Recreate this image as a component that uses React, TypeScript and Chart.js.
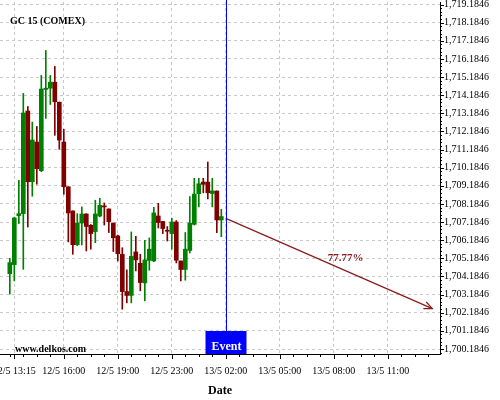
import React, { useEffect, useRef } from "react";
import { Chart, registerables } from "chart.js";

Chart.register(...registerables);

const FONT = "'Liberation Serif', 'Times New Roman', serif";

// candle index (15-minute bars, trading gaps removed)
const candleIndex = [
  0, 1, 2, 3, 4, 5, 6, 7, 8, 9, 10, 11, 12, 13, 14, 15, 16, 17, 18, 19, 20, 21, 22, 23,
  24, 25, 26, 27, 28, 29, 30, 31, 32, 33, 34, 35, 36, 37, 38, 39, 40, 41, 42, 43, 44, 45, 46, 47,
];
const opens = [
  1704.34, 1704.84, 1707.54, 1707.65, 1713.31, 1709.41, 1711.6, 1710.02, 1714.5, 1714.57, 1714.9, 1713.8,
  1711.6, 1709.13, 1707.8, 1705.94, 1707.13, 1707.63, 1707.01, 1706.66, 1707.52, 1708.07, 1707.91, 1707.13,
  1706.42, 1705.41, 1703.35, 1703.14, 1705.54, 1704.91, 1703.83, 1705.07, 1705.04, 1707.52, 1707.22, 1706.71,
  1706.55, 1707.19, 1705.04, 1704.57, 1705.62, 1707.06, 1708.75, 1709.39, 1709.39, 1708.76, 1708.9, 1707.3,
];
const highs = [
  1705.19, 1707.45, 1709.49, 1714.28, 1713.56, 1712.7, 1712.46, 1715.27, 1716.65, 1715.27, 1715.77, 1713.8,
  1712.3, 1709.13, 1707.8, 1707.65, 1708.02, 1707.65, 1707.05, 1708.39, 1708.5, 1708.24, 1707.91, 1707.13,
  1706.47, 1705.77, 1704.55, 1706.64, 1706.4, 1705.41, 1706.18, 1706.31, 1708.0, 1708.22, 1707.22, 1706.94,
  1707.4, 1707.27, 1705.04, 1706.61, 1708.59, 1709.6, 1709.6, 1709.6, 1710.5, 1709.6, 1708.9, 1707.89,
];
const lows = [
  1703.21, 1703.94, 1707.1, 1704.58, 1706.91, 1708.61, 1709.27, 1709.96, 1712.9, 1713.67, 1711.97, 1711.2,
  1708.72, 1706.09, 1705.41, 1705.88, 1705.92, 1705.59, 1705.69, 1706.05, 1707.47, 1707.02, 1706.61, 1705.56,
  1705.04, 1702.38, 1702.73, 1702.73, 1704.49, 1703.39, 1702.84, 1704.53, 1705.0, 1706.86, 1706.55, 1706.14,
  1705.69, 1704.93, 1703.94, 1703.98, 1705.48, 1707.02, 1708.02, 1708.8, 1708.46, 1708.02, 1706.6, 1706.38,
];
const closes = [
  1704.95, 1707.41, 1707.65, 1713.2, 1709.41, 1711.71, 1710.13, 1714.52, 1714.57, 1714.9, 1713.82, 1711.71,
  1709.13, 1707.69, 1705.94, 1707.13, 1707.63, 1706.94, 1706.55, 1707.63, 1708.11, 1708.02, 1707.21, 1706.32,
  1705.44, 1703.35, 1703.14, 1705.3, 1705.1, 1703.85, 1705.1, 1705.69, 1707.69, 1707.16, 1706.83, 1706.68,
  1707.19, 1705.08, 1704.57, 1705.69, 1707.13, 1708.73, 1709.3, 1709.27, 1708.8, 1708.9, 1707.3, 1707.49,
];

const xTickIndex = [1, 12, 24, 36, 48, 60, 72, 84];
const xTickLabels = [
  "12/5 13:15", "12/5 16:00", "12/5 19:00", "12/5 23:00",
  "13/5 02:00", "13/5 05:00", "13/5 08:00", "13/5 11:00",
];
const yTickValues = [
  1700.1846, 1701.1846, 1702.1846, 1703.1846, 1704.1846, 1705.1846, 1706.1846, 1707.1846, 1708.1846, 1709.1846,
  1710.1846, 1711.1846, 1712.1846, 1713.1846, 1714.1846, 1715.1846, 1716.1846, 1717.1846, 1718.1846, 1719.1846,
];

const eventIndex = 48;
const eventLabel = "Event";
const arrowX = [48, 93.9];
const arrowY = [1707.39, 1702.41];
const probabilityText = "77.77%";
const probabilityPos = [74.6, 1705.21];
const titleText = "GC 15 (COMEX)";
const watermarkText = "www.delkos.com";
const xTitle = "Date";

const UP = "#008000";
const DOWN = "#800000";
const ARROW = "#8b1a1a";
const GRID = "#c8c8c8";

function fmtY(v: number) {
  return Number(v).toLocaleString("en-US", { minimumFractionDigits: 4, maximumFractionDigits: 4 });
}

const overlayPlugin = {
  id: "overlay",
  afterDatasetsDraw(chart: any) {
    const { ctx, chartArea, scales } = chart;
    const x = scales.x;
    const y = scales.y;
    ctx.save();

    // minor + major ticks on y axis (right)
    ctx.strokeStyle = "#000";
    ctx.lineWidth = 1;
    ctx.beginPath();
    const yBase = yTickValues[0];
    for (let i = -2; i <= 100; i++) {
      const v = yBase + i * 0.2;
      if (v < y.min || v > y.max) continue;
      const py = Math.round(y.getPixelForValue(v)) + 0.5;
      const len = i % 5 === 0 ? 4 : 2;
      ctx.moveTo(chartArea.right, py);
      ctx.lineTo(chartArea.right + len, py);
    }
    // ticks on x axis
    for (let k = 0; k <= 96; k += 3) {
      if (k < x.min || k > x.max) continue;
      const px = Math.round(x.getPixelForValue(k)) + 0.5;
      ctx.moveTo(px, chartArea.bottom);
      ctx.lineTo(px, chartArea.bottom + 3);
    }
    for (const k of xTickIndex) {
      const px = Math.round(x.getPixelForValue(k)) + 0.5;
      ctx.moveTo(px, chartArea.bottom);
      ctx.lineTo(px, chartArea.bottom + 5);
    }
    ctx.stroke();

    // arrow head
    const x1 = x.getPixelForValue(arrowX[0]);
    const y1 = y.getPixelForValue(arrowY[0]);
    const x2 = x.getPixelForValue(arrowX[1]);
    const y2 = y.getPixelForValue(arrowY[1]);
    const ang = Math.atan2(y2 - y1, x2 - x1);
    const hl = 9;
    const spread = 0.42;
    ctx.strokeStyle = ARROW;
    ctx.lineWidth = 1.2;
    ctx.beginPath();
    ctx.moveTo(x2 - hl * Math.cos(ang - spread), y2 - hl * Math.sin(ang - spread));
    ctx.lineTo(x2, y2);
    ctx.lineTo(x2 - hl * Math.cos(ang + spread), y2 - hl * Math.sin(ang + spread));
    ctx.stroke();

    // probability text
    ctx.fillStyle = ARROW;
    ctx.font = `bold 11px ${FONT}`;
    ctx.textAlign = "center";
    ctx.textBaseline = "middle";
    ctx.fillText(probabilityText, x.getPixelForValue(probabilityPos[0]), y.getPixelForValue(probabilityPos[1]));

    // event line
    const ex = Math.round(x.getPixelForValue(eventIndex)) + 0.5;
    ctx.strokeStyle = "#0000ff";
    ctx.lineWidth = 1;
    ctx.beginPath();
    ctx.moveTo(ex, 0);
    ctx.lineTo(ex, chartArea.bottom);
    ctx.stroke();

    // event box
    ctx.fillStyle = "#0000ff";
    ctx.fillRect(ex - 21, chartArea.bottom - 23, 41, 23);
    ctx.fillStyle = "#ffffff";
    ctx.font = `bold 12px ${FONT}`;
    ctx.textAlign = "center";
    ctx.textBaseline = "alphabetic";
    ctx.fillText(eventLabel, ex, chartArea.bottom - 4);

    // title & watermark
    ctx.fillStyle = "#000";
    ctx.textAlign = "left";
    ctx.font = `bold 10px ${FONT}`;
    ctx.fillText(titleText, chartArea.left + 10, 24);
    ctx.fillText(watermarkText, chartArea.left + 15, chartArea.bottom - 2);

    ctx.restore();
  },
};

export default function App() {
  const ref = useRef<HTMLCanvasElement | null>(null);

  useEffect(() => {
    if (!ref.current) return;
    const colors = candleIndex.map((_, i) => (closes[i] >= opens[i] ? UP : DOWN));
    const chart = new Chart(ref.current, {
      type: "bar",
      data: {
        datasets: [
          {
            type: "bar",
            label: "wick",
            data: candleIndex.map((k, i) => ({ x: k, y: [lows[i], highs[i]] })) as any,
            backgroundColor: colors,
            barThickness: 1,
            grouped: false,
            order: 2,
          } as any,
          {
            type: "bar",
            label: "body",
            data: candleIndex.map((k, i) => ({ x: k, y: [opens[i], closes[i]] })) as any,
            backgroundColor: colors,
            barThickness: 4,
            minBarLength: 1,
            grouped: false,
            order: 1,
          } as any,
          {
            type: "line",
            label: "forecast",
            data: arrowX.map((v, i) => ({ x: v, y: arrowY[i] })) as any,
            borderColor: ARROW,
            borderWidth: 1.2,
            pointRadius: 0,
            fill: false,
            order: 0,
          } as any,
        ],
      },
      options: {
        animation: false,
        responsive: false,
        maintainAspectRatio: false,
        layout: { padding: { top: 2, left: 0, right: 0, bottom: 0 } },
        plugins: { legend: { display: false }, tooltip: { enabled: false }, title: { display: false } },
        scales: {
          x: {
            type: "linear",
            position: "bottom",
            min: -2.18,
            max: 95.6,
            offset: false,
            afterBuildTicks: (s: any) => {
              s.ticks = xTickIndex.map((v) => ({ value: v }));
            },
            afterFit: (s: any) => {
              s.height = 46;
              s.paddingLeft = 0;
              s.paddingRight = 0;
            },
            ticks: {
              autoSkip: false,
              maxRotation: 0,
              minRotation: 0,
              padding: 11,
              color: "#000",
              font: { family: FONT, size: 10 },
              callback: (v: any) => {
                const i = xTickIndex.indexOf(Number(v));
                return i >= 0 ? xTickLabels[i] : "";
              },
            },
            grid: { color: GRID, drawTicks: false, offset: false },
            border: { display: true, color: "#000", width: 1, dash: [3, 3] },
            title: {
              display: true,
              text: xTitle,
              color: "#000",
              font: { family: FONT, size: 12, weight: "bold" },
              padding: { top: 0, bottom: 2 },
            },
          } as any,
          y: {
            type: "linear",
            position: "right",
            min: 1699.909,
            max: 1719.3225,
            afterBuildTicks: (s: any) => {
              s.ticks = yTickValues.map((v) => ({ value: v }));
            },
            afterFit: (s: any) => {
              s.width = 60;
              s.paddingTop = 0;
              s.paddingBottom = 0;
            },
            ticks: {
              padding: 4,
              color: "#000",
              font: { family: FONT, size: 10 },
              callback: (v: any) => fmtY(v),
            },
            grid: { color: GRID, drawTicks: false },
            border: { display: true, color: "#000", width: 1, dash: [3, 3] },
          } as any,
        },
      },
      plugins: [overlayPlugin],
    });
    return () => chart.destroy();
  }, []);

  return (
    <div style={{ position: "absolute", left: 0, top: 0, width: 500, height: 400, background: "#fff" }}>
      <canvas ref={ref} width={500} height={400} style={{ display: "block", width: 500, height: 400 }} />
    </div>
  );
}
